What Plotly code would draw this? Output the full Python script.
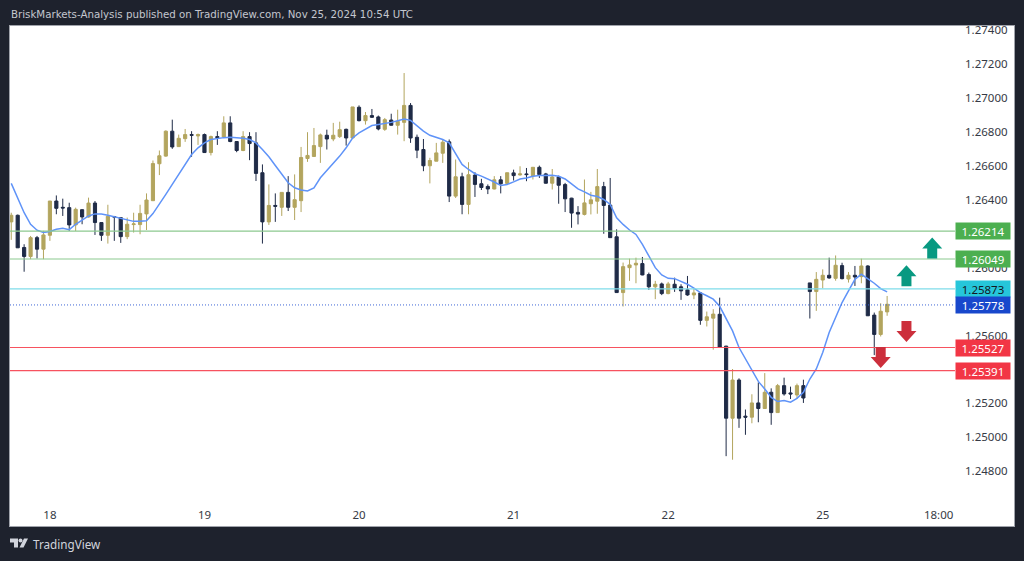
import plotly.graph_objects as go

# hour index, 0 = Nov 18 00:00 UTC (weekend removed)
hours = list(range(-6, 131))
open_p = [1.26268,1.26307,1.26117,1.26064,1.26175,1.26107,1.26189,1.26391,1.26354,1.26352,1.26250,1.26340,1.26297,1.26379,1.26264,1.26189,1.26299,1.26293,1.26181,1.26252,1.26252,1.26315,1.26393,1.26611,1.26656,1.26803,1.26712,1.26759,1.26783,1.26775,1.26783,1.26677,1.26771,1.26769,1.26852,1.26742,1.26689,1.26771,1.26734,1.26558,
1.26268,1.26365,1.26354,1.26442,1.26354,1.26393,1.26642,1.26654,1.26712,1.26779,1.26757,1.26771,1.26814,1.26763,1.26944,1.26865,1.26895,1.26887,1.26814,1.26869,1.26838,1.26855,1.26955,1.26767,1.26695,1.26599,1.26626,1.26673,1.26740,1.26420,
1.26534,1.26371,1.26544,1.26493,1.26477,1.26462,1.26516,1.26495,1.26557,1.26545,1.26551,1.26539,1.26590,1.26551,1.26496,1.26533,1.26488,1.26408,1.26324,1.26312,1.26375,1.26390,1.26476,1.26367,1.26180,1.25851,1.25998,1.26014,1.26022,1.25957,
1.25885,1.25902,1.25845,1.25900,1.25885,1.25867,1.25837,1.25849,1.25687,1.25700,1.25723,1.25535,1.25110,1.25335,1.25122,1.25116,1.25200,1.25167,1.25263,1.25143,1.25302,1.25259,1.25247,1.25302,1.25908,1.25857,1.25925,1.25953,1.25935,1.26010,
1.25931,1.25953,1.25945,1.26008,1.25718,1.25604,1.25737]
high_p = [1.26322,1.26311,1.26136,1.26185,1.26185,1.26215,1.26391,1.26424,1.26405,1.26381,1.26352,1.26342,1.26411,1.26391,1.26264,1.26369,1.26303,1.26295,1.26293,1.26322,1.26369,1.26436,1.26630,1.26689,1.26808,1.26871,1.26783,1.26816,1.26803,1.26789,1.26789,1.26777,1.26803,1.26891,1.26891,1.26744,1.26803,1.26797,1.26797,1.26607,
1.26489,1.26436,1.26442,1.26538,1.26548,1.26710,1.26797,1.26822,1.26789,1.26812,1.26852,1.26859,1.26818,1.26946,1.26955,1.26916,1.26934,1.26895,1.26881,1.26906,1.26930,1.27146,1.26969,1.26783,1.26757,1.26646,1.26734,1.26757,1.26754,1.26636,
1.26558,1.26620,1.26561,1.26522,1.26489,1.26538,1.26538,1.26558,1.26576,1.26596,1.26586,1.26592,1.26600,1.26557,1.26580,1.26541,1.26498,1.26410,1.26361,1.26518,1.26445,1.26580,1.26504,1.26527,1.26224,1.26028,1.26051,1.26057,1.26061,1.25969,
1.25920,1.25910,1.25914,1.25939,1.25900,1.25949,1.25875,1.25851,1.25739,1.25753,1.25821,1.25537,1.25400,1.25345,1.25161,1.25251,1.25321,1.25376,1.25286,1.25312,1.25349,1.25296,1.25314,1.25337,1.25908,1.25972,1.25988,1.26057,1.26070,1.26027,
1.25972,1.26008,1.26051,1.26012,1.25733,1.25788,1.25831]
low_p = [1.26162,1.26115,1.25974,1.26048,1.26052,1.26048,1.26156,1.26313,1.26303,1.26215,1.26214,1.26254,1.26293,1.26191,1.26156,1.26140,1.26156,1.26144,1.26166,1.26205,1.26195,1.26220,1.26391,1.26544,1.26652,1.26699,1.26710,1.26740,1.26652,1.26722,1.26675,1.26660,1.26722,1.26767,1.26738,1.26679,1.26685,1.26632,1.26509,1.26140,
1.26250,1.26268,1.26303,1.26332,1.26279,1.26326,1.26622,1.26652,1.26616,1.26695,1.26744,1.26763,1.26718,1.26761,1.26861,1.26842,1.26881,1.26808,1.26805,1.26836,1.26783,1.26744,1.26734,1.26644,1.26567,1.26495,1.26626,1.26616,1.26385,1.26409,
1.26313,1.26313,1.26415,1.26456,1.26432,1.26460,1.26436,1.26489,1.26512,1.26541,1.26508,1.26518,1.26527,1.26494,1.26459,1.26375,1.26326,1.26233,1.26253,1.26306,1.26312,1.26316,1.26198,1.26175,1.25851,1.25769,1.25920,1.25906,1.25953,1.25867,
1.25812,1.25836,1.25841,1.25855,1.25808,1.25832,1.25812,1.25661,1.25651,1.25514,1.25527,1.24886,1.24865,1.25053,1.25012,1.25080,1.25086,1.25165,1.25071,1.25143,1.25243,1.25223,1.25223,1.25200,1.25698,1.25743,1.25876,1.25933,1.25921,1.25929,
1.25910,1.25890,1.25906,1.25714,1.25482,1.25592,1.25714]
close_p = [1.26307,1.26115,1.26064,1.26175,1.26107,1.26191,1.26391,1.26348,1.26350,1.26250,1.26342,1.26297,1.26379,1.26264,1.26189,1.26301,1.26297,1.26181,1.26254,1.26256,1.26318,1.26397,1.26612,1.26658,1.26803,1.26710,1.26761,1.26783,1.26779,1.26783,1.26677,1.26771,1.26765,1.26852,1.26742,1.26689,1.26771,1.26730,1.26554,1.26268,
1.26365,1.26360,1.26442,1.26354,1.26399,1.26648,1.26660,1.26718,1.26781,1.26757,1.26779,1.26812,1.26763,1.26946,1.26865,1.26895,1.26885,1.26816,1.26871,1.26838,1.26861,1.26955,1.26763,1.26691,1.26599,1.26630,1.26675,1.26738,1.26420,1.26534,
1.26371,1.26546,1.26489,1.26471,1.26462,1.26516,1.26493,1.26558,1.26541,1.26551,1.26547,1.26590,1.26547,1.26496,1.26533,1.26484,1.26404,1.26320,1.26314,1.26380,1.26398,1.26476,1.26365,1.26175,1.25851,1.26004,1.26014,1.26024,1.25955,1.25885,
1.25900,1.25845,1.25902,1.25877,1.25861,1.25837,1.25849,1.25687,1.25708,1.25724,1.25529,1.25110,1.25335,1.25110,1.25116,1.25200,1.25167,1.25263,1.25143,1.25302,1.25253,1.25253,1.25302,1.25229,1.25857,1.25929,1.25953,1.25937,1.26012,1.25933,
1.25953,1.25943,1.26008,1.25714,1.25604,1.25741,1.25782]
ma_line = [1.26495,1.26405,1.26322,1.26254,1.26219,1.26205,1.26211,1.26224,1.26230,1.26222,1.26254,1.26279,1.26303,1.26315,1.26315,1.26307,1.26299,1.26287,1.26279,1.26271,1.26271,1.26275,1.26317,1.26371,1.26430,1.26489,1.26548,1.26607,1.26665,1.26705,1.26734,1.26754,1.26761,1.26765,1.26767,1.26765,1.26761,1.26754,1.26734,1.26695,
1.26652,1.26601,1.26548,1.26499,1.26469,1.26456,1.26450,1.26469,1.26528,1.26571,1.26612,1.26656,1.26705,1.26763,1.26793,1.26816,1.26836,1.26842,1.26848,1.26855,1.26865,1.26875,1.26867,1.26836,1.26803,1.26779,1.26765,1.26754,1.26734,1.26669,
1.26607,1.26577,1.26552,1.26538,1.26522,1.26503,1.26483,1.26489,1.26504,1.26521,1.26527,1.26537,1.26541,1.26543,1.26543,1.26537,1.26521,1.26492,1.26463,1.26445,1.26425,1.26418,1.26400,1.26371,1.26292,1.26253,1.26220,1.26194,1.26135,1.26067,
1.25998,1.25955,1.25935,1.25933,1.25916,1.25900,1.25877,1.25851,1.25832,1.25812,1.25770,1.25694,1.25625,1.25527,1.25459,1.25390,1.25327,1.25282,1.25233,1.25208,1.25214,1.25204,1.25227,1.25263,1.25341,1.25400,1.25498,1.25616,1.25704,1.25792,
1.25861,1.25929,1.25959,1.25933,1.25906,1.25874,1.25855]

tick_hours = [0, 24, 48, 72, 96, 120, 138]
tick_text = ["18", "19", "20", "21", "22", "25", "18:00"]
price_ticks = [1.274, 1.272, 1.27, 1.268, 1.266, 1.264, 1.26, 1.256, 1.252, 1.25, 1.248]
price_text = ["1.27400", "1.27200", "1.27000", "1.26800", "1.26600", "1.26400", "1.26000", "1.25600", "1.25200", "1.25000", "1.24800"]

levels = [1.26214, 1.26049, 1.25873, 1.25778, 1.25527, 1.25391]
level_text = ["1.26214", "1.26049", "1.25873", "1.25778", "1.25527", "1.25391"]
level_fill = ["#4caf50", "#4caf50", "#26c6da", "#1848cc", "#f23645", "#f23645"]
level_font = ["#ffffff", "#ffffff", "#131722", "#ffffff", "#ffffff", "#ffffff"]
level_line = ["#8cc98f", "#8cc98f", "#7fdcea", "#3f66d6", "#f7525f", "#f7525f"]
level_dash = ["solid", "solid", "solid", "1px,2px", "solid", "solid"]

up_arrows = [(137, 1.26176), (133, 1.26012)]
down_arrows = [(133, 1.25559), (129, 1.25406)]

GOLD = "#b3a55e"
DARK = "#1f2b47"
FRAME = "#1e222d"
UP = "#089981"
DOWN = "#cc2f3c"
FONT = "Noto Sans"

fig = go.Figure()
fig.add_trace(go.Scatter(x=hours, y=ma_line, mode="lines", line=dict(color="#5f93f8", width=1.5), hoverinfo="skip", showlegend=False))
fig.add_trace(go.Candlestick(x=hours, open=open_p, high=high_p, low=low_p, close=close_p,
    increasing=dict(fillcolor=GOLD, line=dict(color=GOLD, width=1)),
    decreasing=dict(fillcolor=DARK, line=dict(color=DARK, width=1)),
    whiskerwidth=0, hoverinfo="skip", showlegend=False))

shapes = []
annotations = []
for v, col, dash in zip(levels, level_line, level_dash):
    shapes.append(dict(type="line", xref="paper", yref="y", x0=0, x1=0.9412, y0=v, y1=v,
                       line=dict(color=col, width=1.2 if dash == "solid" else 1, dash=dash), layer="above"))
for v, t in zip(price_ticks, price_text):
    annotations.append(dict(xref="paper", yref="y", x=0.9412, y=v, xanchor="left", yanchor="middle", xshift=9,
                            text=t, showarrow=False, borderpad=0, font=dict(family=FONT, size=11.5, color="#363a45")))
for v, t, fill, fc in zip(levels, level_text, level_fill, level_font):
    annotations.append(dict(xref="paper", yref="y", x=0.9412, y=v, xanchor="left", yanchor="middle",
                            text=t, showarrow=False, bgcolor=fill, width=54, height=16, borderpad=0,
                            align="center", font=dict(family=FONT, size=11.5, color=fc)))
# block arrows are sized in pixels round their tip
up_path = "M0,0 L10,-11 L5,-11 L5,-21 L-5,-21 L-5,-11 L-10,-11 Z"
down_path = "M0,0 L10,11 L5,11 L5,21 L-5,21 L-5,11 L-10,11 Z"
for h, p in up_arrows:
    shapes.append(dict(type="path", xsizemode="pixel", ysizemode="pixel", xref="x", yref="y", xanchor=h, yanchor=p,
                       path=up_path, fillcolor=UP, line=dict(width=0), layer="above"))
for h, p in down_arrows:
    shapes.append(dict(type="path", xsizemode="pixel", ysizemode="pixel", xref="x", yref="y", xanchor=h, yanchor=p,
                       path=down_path, fillcolor=DOWN, line=dict(width=0), layer="above"))
# TradingView logo, pixel sized from the plot's lower left corner
logo = ["M0,-12.5 L8,-12.5 L8,-21.5 L4,-21.5 L4,-16.5 L0,-16.5 Z",
        "M18,-12.5 L14,-12.5 L9.5,-21.5 L13.5,-21.5 Z"]
for path in logo:
    shapes.append(dict(type="path", xsizemode="pixel", ysizemode="pixel", xref="paper", yref="paper", xanchor=0, yanchor=0,
                       path=path, fillcolor="#d1d4dc", line=dict(width=0), layer="above"))
shapes.append(dict(type="circle", xsizemode="pixel", ysizemode="pixel", xref="paper", yref="paper", xanchor=0, yanchor=0,
                   x0=8.5, x1=12.5, y0=-16.5, y1=-12.5, fillcolor="#d1d4dc", line=dict(width=0), layer="above"))

annotations.append(dict(xref="paper", yref="paper", x=0, y=1, xanchor="left", yanchor="bottom", yshift=5,
                        text="BriskMarkets-Analysis published on TradingView.com, Nov 25, 2024 10:54 UTC",
                        showarrow=False, borderpad=0, font=dict(family="DejaVu Sans", size=10.25, color="#c4c7cf")))
annotations.append(dict(xref="paper", yref="paper", x=0, y=0, xanchor="left", yanchor="top", xshift=22, yshift=-9,
                        text="TradingView", showarrow=False, borderpad=0, font=dict(family=FONT, size=11.7, color="#d1d4dc")))

fig.update_layout(
    width=1024, height=561, autosize=False,
    margin=dict(l=10, r=10, t=26, b=34.5, pad=0),
    paper_bgcolor=FRAME, plot_bgcolor="#ffffff",
    showlegend=False, shapes=shapes, annotations=annotations, hovermode=False,
    xaxis=dict(range=[-6.196, 149.7], tickvals=tick_hours, ticktext=tick_text, ticks="", showgrid=False, zeroline=False,
               rangeslider=dict(visible=False), ticklabelposition="inside", ticklabelstandoff=4,
               tickfont=dict(family=FONT, size=11.5, color="#363a45"),
               showline=True, mirror=True, linecolor="#a0a3ab", linewidth=1),
    yaxis=dict(range=[1.24474, 1.274235], side="right", showticklabels=False, ticks="",
               showgrid=False, zeroline=False,
               showline=True, mirror=True, linecolor="#a0a3ab", linewidth=1),
)
fig.write_html("out.html", config={"displayModeBar": False},
               post_script="document.body.style.margin='0';document.documentElement.style.background='#1e222d';")
